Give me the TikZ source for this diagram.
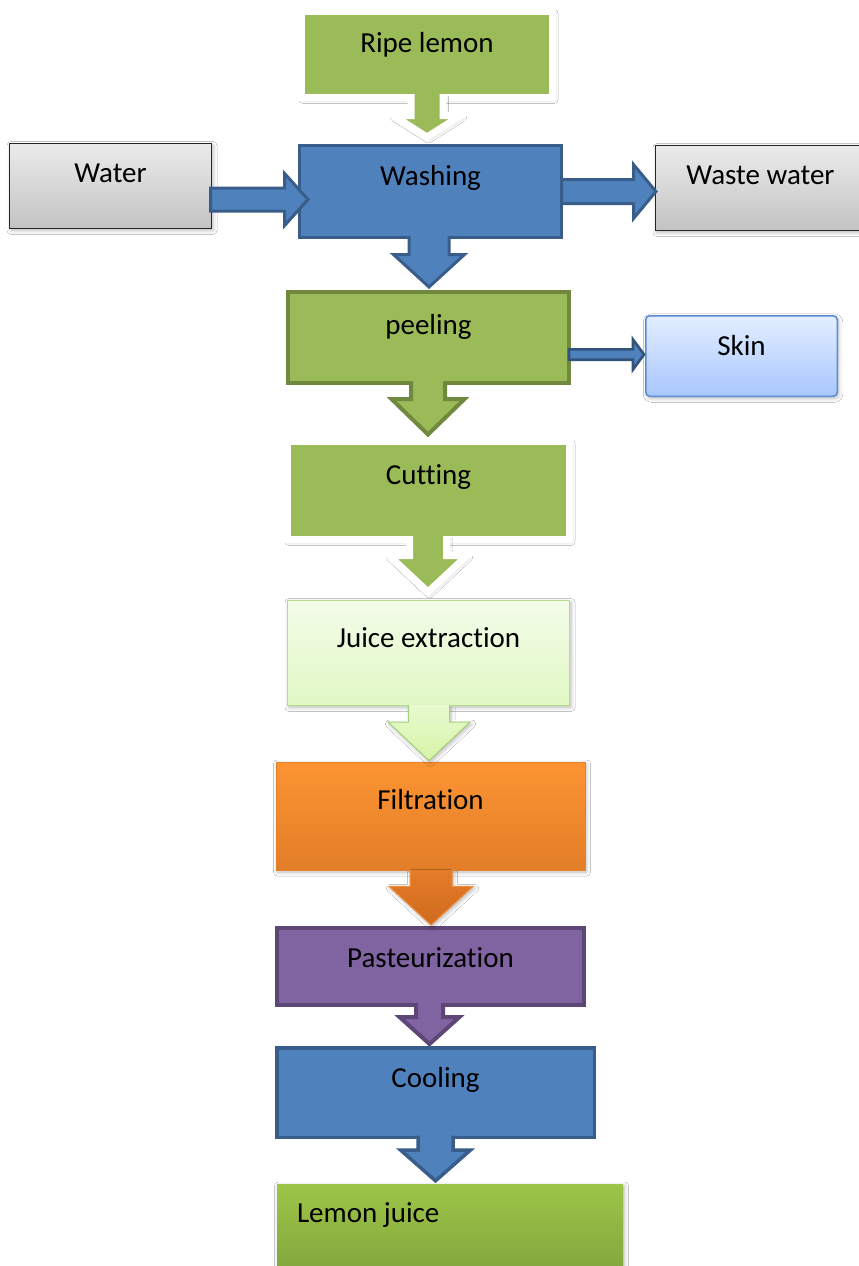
\documentclass[tikz,border=0pt]{standalone}
\usepackage{fontspec}
\setmainfont{Carlito}[Ligatures=NoCommon]
\usetikzlibrary{calc,shadows.blur}
\definecolor{greenF}{HTML}{9BBB59}
\definecolor{greenD}{HTML}{71893F}
\definecolor{blueF}{HTML}{4F81BD}
\definecolor{blueD}{HTML}{385D8A}
\definecolor{purpleF}{HTML}{8064A2}
\definecolor{purpleD}{HTML}{5C4776}
\definecolor{grayT}{HTML}{EBEBEB}
\definecolor{grayB}{HTML}{C3C3C3}
\definecolor{skinT}{HTML}{E3EEFF}
\definecolor{skinB}{HTML}{A8C7FE}
\definecolor{skinD}{HTML}{5A8AD0}
\definecolor{juiceT}{HTML}{F3FCE9}
\definecolor{juiceB}{HTML}{E1F8C4}
\definecolor{juiceD}{HTML}{B5DB8C}
\definecolor{juiceAT}{HTML}{E8FAD0}
\definecolor{juiceAB}{HTML}{D6F4A6}
\definecolor{juiceAD}{HTML}{A6D27A}
\definecolor{orangeT}{HTML}{FC9432}
\definecolor{orangeB}{HTML}{E27E28}
\definecolor{orangeAT}{HTML}{E47D29}
\definecolor{orangeAB}{HTML}{CF6A1E}
\definecolor{orangeD}{HTML}{F39040}
\definecolor{lemonT}{HTML}{9DC548}
\definecolor{lemonB}{HTML}{7A9B3A}
\tikzset{
  base/.style={rectangle, inner sep=0pt, text=black},
  softshadow/.style={blur shadow={shadow xshift=1.5pt, shadow yshift=-2pt, shadow blur radius=4pt, shadow opacity=28}},
  wgreen/.style={base, fill=greenF, draw=white, line width=7pt, softshadow},
  bluebox/.style={base, fill=blueF, draw=blueD, line width=3pt},
  dgreen/.style={base, fill=greenF, draw=greenD, line width=4pt},
  graybox/.style={base, top color=grayT, bottom color=grayB, draw=black!85, line width=1.2pt, softshadow},
  skinbox/.style={base, top color=skinT, bottom color=skinB, draw=skinD, line width=1.5pt, rounded corners=4pt, softshadow},
  juicebox/.style={base, top color=juiceT, bottom color=juiceB, draw=juiceD, line width=1pt, softshadow},
  orangebox/.style={base, top color=orangeT, bottom color=orangeB, draw=orangeB!80!orangeT, line width=0.8pt, softshadow},
  purplebox/.style={base, fill=purpleF, draw=purpleD, line width=4pt},
  coolbox/.style={base, fill=blueF, draw=blueD, line width=3.5pt},
  lemonbox/.style={base, top color=lemonT, bottom color=lemonB, draw=none, softshadow},
  txt/.style={anchor=base, inner sep=0pt},
  wgarrow/.style={fill=greenF, draw=white, line width=7pt, softshadow},
  bluearrow/.style={fill=blueF, draw=blueD, line width=3pt},
  dgarrow/.style={fill=greenF, draw=greenD, line width=4pt},
  juicearrow/.style={top color=juiceAT, bottom color=juiceAB, draw=juiceAD, line width=1pt, softshadow},
  orangearrow/.style={top color=orangeAT, bottom color=orangeAB, draw=orangeD, line width=1pt, softshadow},
  purplearrow/.style={fill=purpleF, draw=purpleD, line width=4pt},
  coolarrow/.style={fill=blueF, draw=blueD, line width=3.5pt},
  skinarrow/.style={fill=blueF, draw=blueD!90!black, line width=2.6pt},
}
% #1 style, #2 from, #3 to, #4 dx, #5 stem half, #6 head top below from.south, #7 head half, #8 tip lift, #9 start inside
\newcommand{\downflow}[9]{%
  \coordinate (tmpA) at ($(#2.south)+(#4,0)$);
  \coordinate (tmpT) at ($(tmpA |- #3.north)+(0,-#8)$);
  \filldraw[#1] ($(tmpA)+(-#5,-#9)$) -- ($(tmpA)+(-#5,#6)$) -- ($(tmpA)+(-#7,#6)$) -- (tmpT)
    -- ($(tmpA)+(#7,#6)$) -- ($(tmpA)+(#5,#6)$) -- ($(tmpA)+(#5,-#9)$);
}
% #1 style, #2 from, #3 to, #4 dy, #5 stem half, #6 head x from from.east, #7 head half, #8 tip into to, #9 start x
\newcommand{\rightflow}[9]{%
  \coordinate (tmpA) at ($(#2.east)+(0,#4)$);
  \coordinate (tmpT) at ($(tmpA -| #3.west)+(#8,0)$);
  \filldraw[#1] ($(tmpA)+(#9,-#5)$) -- ($(tmpA)+(#6,-#5)$) -- ($(tmpA)+(#6,-#7)$) -- (tmpT)
    -- ($(tmpA)+(#6,#7)$) -- ($(tmpA)+(#6,#5)$) -- ($(tmpA)+(#9,#5)$) -- cycle;
}
\begin{document}
\begin{tikzpicture}[x=1pt, y=-1pt, font=\fontsize{29}{33}\selectfont]
\useasboundingbox (0,0) rectangle (859,1266);
\fill[white] (0,0) rectangle (859,1266);

\node[wgreen, minimum width=251pt, minimum height=86pt, label={[txt,yshift=-44pt]north:Ripe lemon}] (ripe) at (427,54.5) {};
\node[graybox, minimum width=202pt, minimum height=85pt, label={[txt,yshift=-40pt]north:Water}] (water) at (110.5,186) {};
\node[bluebox, minimum width=262pt, minimum height=92pt, label={[txt,yshift=-41pt]north:Washing}] (wash) at (430.5,191.5) {};
\node[graybox, minimum width=210pt, minimum height=85pt, label={[txt,yshift=-40pt]north:Waste water}] (waste) at (760.5,188) {};
\node[dgreen, minimum width=281pt, minimum height=91pt, label={[txt,yshift=-44pt]north:peeling}] (peel) at (428.5,337.5) {};
\node[skinbox, minimum width=191.5pt, minimum height=80.5pt, label={[txt,yshift=-40pt]north:Skin}] (skin) at (741.5,356) {};
\node[wgreen, minimum width=282pt, minimum height=98.5pt, label={[txt,yshift=-46.5pt]north:Cutting}] (cut) at (428.5,490.25) {};
\node[juicebox, minimum width=282pt, minimum height=105pt, label={[txt,yshift=-47pt]north:Juice extraction}] (juice) at (428.5,653) {};
\node[orangebox, minimum width=309pt, minimum height=108pt, label={[txt,yshift=-48pt]north:Filtration}] (filt) at (430.5,816) {};
\node[purplebox, minimum width=307pt, minimum height=77pt, label={[txt,yshift=-41pt]north:Pasteurization}] (past) at (430.5,966.5) {};
\node[coolbox, minimum width=317.5pt, minimum height=89.5pt, label={[txt,yshift=-41pt]north:Cooling}] (cool) at (435.5,1092.5) {};
\node[lemonbox, minimum width=346pt, minimum height=120pt, label={[txt,anchor=base west,xshift=20pt,yshift=-39pt]north west:Lemon juice}] (lemon) at (450,1244) {};

\downflow{wgarrow}{ripe}{wash}{0}{16}{14.5}{34}{7}{7}
\rightflow{bluearrow}{water}{wash}{13.5}{11.5}{72.5}{26}{10}{-1.5}
\rightflow{bluearrow}{wash}{waste}{0}{12}{70.5}{27}{1}{-1.5}
\downflow{bluearrow}{wash}{peel}{-1.5}{20}{15.5}{35.5}{3}{3}
\rightflow{skinarrow}{peel}{skin}{17}{5.2}{62}{15}{-1}{-2}
\downflow{dgarrow}{peel}{cut}{-0.5}{17}{14}{36.5}{3}{4}
\downflow{wgarrow}{cut}{juice}{-0.5}{18.5}{12.5}{39}{8}{7}
\downflow{juicearrow}{juice}{filt}{0.5}{20.5}{16}{41}{1}{1}
\downflow{orangearrow}{filt}{past}{0.5}{21}{16}{42}{1}{1}
\downflow{purplearrow}{past}{cool}{-1}{13.5}{10}{30}{2}{4}
\downflow{coolarrow}{cool}{lemon}{0}{17.5}{11}{35}{3}{3.5}
\end{tikzpicture}
\end{document}
